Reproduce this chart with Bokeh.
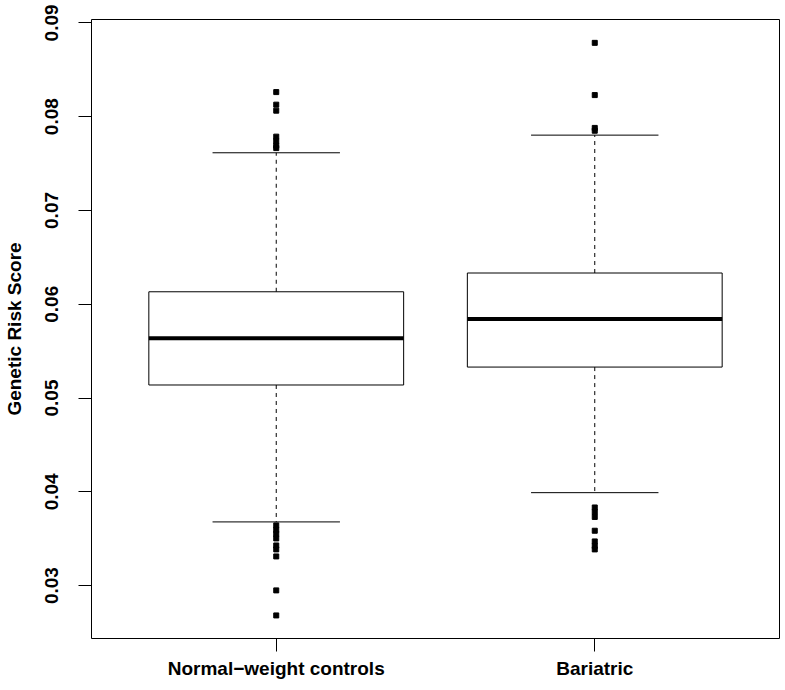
from bokeh.plotting import figure
from bokeh.models import Range1d, FixedTicker, NumeralTickFormatter
from bokeh.embed import file_html
from bokeh.resources import INLINE

# ---- data ----
groups = ["Normal\u2212weight controls", "Bariatric"]
positions = [1, 2]
q1 = [0.05139, 0.05330]
median = [0.05637, 0.05842]
q3 = [0.06133, 0.06333]
whisker_low = [0.03679, 0.03991]
whisker_high = [0.07615, 0.07803]
outliers_1 = [0.08262, 0.08128, 0.08064, 0.07787, 0.07739, 0.07691, 0.07665,
              0.03642, 0.03594, 0.03551, 0.03503, 0.03428, 0.03386, 0.03311,
              0.02949, 0.02682]
outliers_2 = [0.08787, 0.08230, 0.07880, 0.07850,
              0.03833, 0.03785, 0.03732, 0.03585, 0.03471, 0.03423, 0.03386]
y_ticks = [0.03, 0.04, 0.05, 0.06, 0.07, 0.08, 0.09]

FONT = "Liberation Sans"
FS = "19px"

p = figure(width=785, height=690, output_backend="svg", toolbar_location=None,
           x_range=Range1d(0.42, 2.58), y_range=Range1d(0.02436, 0.09036),
           min_border_left=90, min_border_top=19, min_border_right=6, min_border_bottom=52)
p.grid.visible = False
p.outline_line_color = "black"
p.outline_line_width = 1
p.background_fill_color = "white"

bw = 0.4
cap = 0.2
lefts = [x - bw for x in positions]
rights = [x + bw for x in positions]
p.quad(left=lefts, right=rights, bottom=q1, top=q3, fill_color="white",
       line_color="black", line_width=1)
p.segment(x0=lefts, x1=rights, y0=median, y1=median, line_color="black", line_width=4)
# whiskers
p.segment(x0=positions, x1=positions, y0=q3, y1=whisker_high, line_color="black",
          line_width=1, line_dash="4 4")
p.segment(x0=positions, x1=positions, y0=q1, y1=whisker_low, line_color="black",
          line_width=1, line_dash="4 4")
# caps
p.segment(x0=[x - cap for x in positions], x1=[x + cap for x in positions],
          y0=whisker_high, y1=whisker_high, line_color="black", line_width=1)
p.segment(x0=[x - cap for x in positions], x1=[x + cap for x in positions],
          y0=whisker_low, y1=whisker_low, line_color="black", line_width=1)
# outliers
ox = [positions[0]] * len(outliers_1) + [positions[1]] * len(outliers_2)
oy = outliers_1 + outliers_2
p.scatter(ox, oy, marker="square", size=5, fill_color="black", line_color="black")

# axes
p.xaxis.ticker = FixedTicker(ticks=positions)
p.xaxis.major_label_overrides = {positions[i]: groups[i] for i in range(2)}
p.yaxis.ticker = FixedTicker(ticks=y_ticks)
p.yaxis.formatter = NumeralTickFormatter(format="0.00")
p.yaxis.axis_label = "Genetic Risk Score"
for ax in (p.xaxis, p.yaxis):
    ax.axis_line_color = None
    ax.major_tick_line_color = "black"
    ax.major_tick_out = 13
    ax.major_tick_in = 0
    ax.minor_tick_line_color = None
    ax.major_label_text_font = FONT
    ax.major_label_text_font_style = "bold"
    ax.major_label_text_font_size = FS
    ax.major_label_text_color = "black"
    ax.axis_label_text_font = FONT
    ax.axis_label_text_font_style = "bold"
    ax.axis_label_text_font_size = FS
    ax.axis_label_text_color = "black"
p.yaxis.major_label_orientation = "vertical"
p.yaxis.major_label_standoff = 20
p.yaxis.axis_label_standoff = 18
p.xaxis.major_label_standoff = 6

open("out.html", "w").write(file_html(p, INLINE))
